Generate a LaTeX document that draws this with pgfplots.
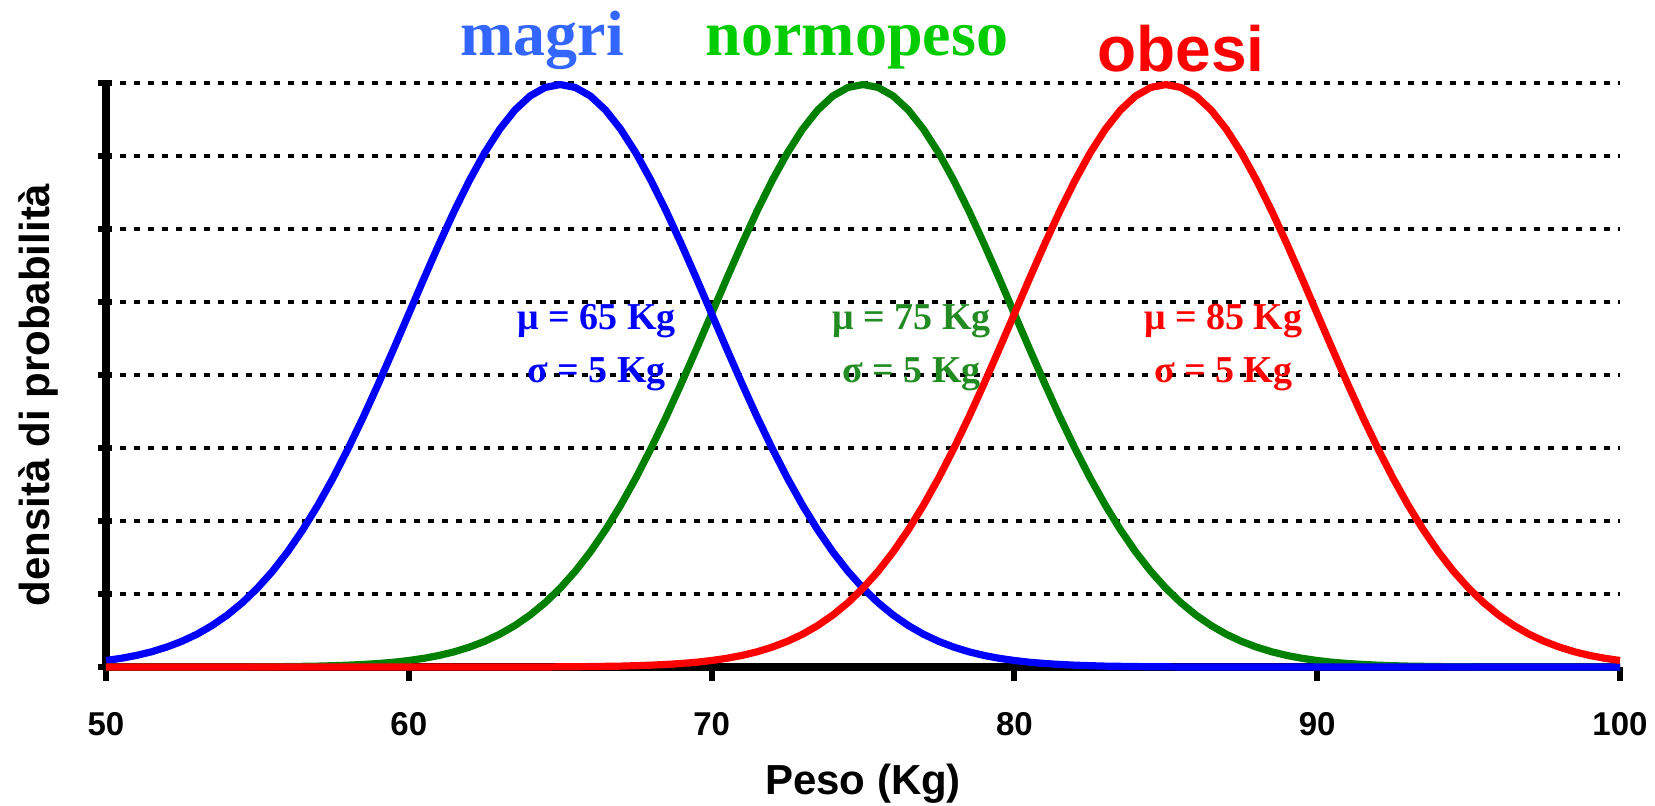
\documentclass[border=0pt]{standalone}
\usepackage{pgfplots}
\pgfplotsset{compat=1.18}
\usepackage{pgfplotstable}
\usepackage{fontspec}
\setmainfont{Liberation Sans}
\newfontfamily\tnr{Liberation Serif}
\definecolor{cblue}{RGB}{0,0,255}
\definecolor{cgreen}{RGB}{0,128,0}
\definecolor{cred}{RGB}{255,0,0}
\definecolor{tblue}{RGB}{51,102,255}
\definecolor{tgreen}{RGB}{0,204,0}
\definecolor{agreen}{RGB}{34,139,34}

\pgfplotstableread{
x m n o
50 0.00089 0 0
50.5 0.00119 0 0
51 0.00158 0 0
51.5 0.00208 0 0
52 0.00272 0 0
52.5 0.00351 0 0
53 0.00448 0 0
53.5 0.00567 0 0
54 0.00710 0 0
54.5 0.00880 0 0
55 0.01080 0.00003 0
55.5 0.01312 0.00004 0
56 0.01579 0.00006 0
56.5 0.01881 0.00009 0
57 0.02218 0.00012 0
57.5 0.02590 0.00018 0
58 0.02995 0.00025 0
58.5 0.03427 0.00035 0
59 0.03884 0.00048 0
59.5 0.04357 0.00065 0
60 0.04839 0.00089 0
60.5 0.05322 0.00119 0
61 0.05794 0.00158 0
61.5 0.06245 0.00208 0
62 0.06664 0.00272 0
62.5 0.07041 0.00351 0
63 0.07365 0.00448 0
63.5 0.07628 0.00567 0
64 0.07821 0.00710 0
64.5 0.07939 0.00880 0
65 0.07979 0.01080 0.00003
65.5 0.07939 0.01312 0.00004
66 0.07821 0.01579 0.00006
66.5 0.07628 0.01881 0.00009
67 0.07365 0.02218 0.00012
67.5 0.07041 0.02590 0.00018
68 0.06664 0.02995 0.00025
68.5 0.06245 0.03427 0.00035
69 0.05794 0.03884 0.00048
69.5 0.05322 0.04357 0.00065
70 0.04839 0.04839 0.00089
70.5 0.04357 0.05322 0.00119
71 0.03884 0.05794 0.00158
71.5 0.03427 0.06245 0.00208
72 0.02995 0.06664 0.00272
72.5 0.02590 0.07041 0.00351
73 0.02218 0.07365 0.00448
73.5 0.01881 0.07628 0.00567
74 0.01579 0.07821 0.00710
74.5 0.01312 0.07939 0.00880
75 0.01080 0.07979 0.01080
75.5 0.00880 0.07939 0.01312
76 0.00710 0.07821 0.01579
76.5 0.00567 0.07628 0.01881
77 0.00448 0.07365 0.02218
77.5 0.00351 0.07041 0.02590
78 0.00272 0.06664 0.02995
78.5 0.00208 0.06245 0.03427
79 0.00158 0.05794 0.03884
79.5 0.00119 0.05322 0.04357
80 0.00089 0.04839 0.04839
80.5 0.00065 0.04357 0.05322
81 0.00048 0.03884 0.05794
81.5 0.00035 0.03427 0.06245
82 0.00025 0.02995 0.06664
82.5 0.00018 0.02590 0.07041
83 0.00012 0.02218 0.07365
83.5 0.00009 0.01881 0.07628
84 0.00006 0.01579 0.07821
84.5 0.00004 0.01312 0.07939
85 0.00003 0.01080 0.07979
85.5 0 0.00880 0.07939
86 0 0.00710 0.07821
86.5 0 0.00567 0.07628
87 0 0.00448 0.07365
87.5 0 0.00351 0.07041
88 0 0.00272 0.06664
88.5 0 0.00208 0.06245
89 0 0.00158 0.05794
89.5 0 0.00119 0.05322
90 0 0.00089 0.04839
90.5 0 0.00065 0.04357
91 0 0.00048 0.03884
91.5 0 0.00035 0.03427
92 0 0.00025 0.02995
92.5 0 0.00018 0.02590
93 0 0.00012 0.02218
93.5 0 0.00009 0.01881
94 0 0.00006 0.01579
94.5 0 0.00004 0.01312
95 0 0.00003 0.01080
95.5 0 0 0.00880
96 0 0 0.00710
96.5 0 0 0.00567
97 0 0 0.00448
97.5 0 0 0.00351
98 0 0 0.00272
98.5 0 0 0.00208
99 0 0 0.00158
99.5 0 0 0.00119
100 0 0 0.00089
}\dens

\begin{document}
\begin{tikzpicture}
\begin{axis}[name=ax, scale only axis, width=757pt, height=292pt,
  xmin=50, xmax=100, ymin=0, ymax=0.08,
  axis x line*=bottom, axis y line*=left,
  axis line style={line width=4pt, black},
  xtick={50,60,70,80,90,100},
  ytick={0,0.01,0.02,0.03,0.04,0.05,0.06,0.07,0.08},
  yticklabels={},
  scaled y ticks=false,
  ymajorgrids,
  major grid style={black, line width=1.8pt, dash pattern=on 2.8pt off 4.2pt},
  tick align=outside, major tick length=7pt,
  tick style={black, line width=3pt},
  ytick style={xshift=3pt},
  /pgf/number format/assume math mode=true,
  ticklabel style={font=\bfseries\fontsize{16.5}{18}\selectfont},
  xticklabel style={anchor=base, yshift=-27pt},
  xlabel={Peso (Kg)},
  xlabel style={at={(axis description cs:0.5,-0.219)}, anchor=base, font=\bfseries\fontsize{21}{24}\selectfont},
  ylabel={densità di probabilità},
  ylabel style={at={(axis description cs:-0.037,0.466)}, anchor=base, font=\bfseries\fontsize{21}{24}\selectfont},
  clip=false, no markers,
]
\addplot[cgreen, line width=3.6pt, line join=round] table[x=x,y=n]{\dens};
\addplot[cblue, line width=3.6pt, line join=round] table[x=x,y=m]{\dens};
\addplot[cred, line width=3.6pt, line join=round] table[x=x,y=o]{\dens};

\node[font=\tnr\bfseries\fontsize{32}{36}\selectfont, text=tblue, anchor=base] at (axis cs:64.4,0.0838) {magri};
\node[font=\tnr\bfseries\fontsize{32}{36}\selectfont, text=tgreen, anchor=base] at (axis cs:74.8,0.0838) {normopeso};
\node[font=\bfseries\fontsize{32}{36}\selectfont, text=cred, anchor=base] at (axis cs:85.5,0.0816) {obesi};

\node[font=\tnr\bfseries\fontsize{19}{22}\selectfont, text=cblue, anchor=base] at (axis cs:66.2,0.0463) {μ = 65 Kg};
\node[font=\tnr\bfseries\fontsize{19}{22}\selectfont, text=cblue, anchor=base] at (axis cs:66.2,0.0390) {σ = 5 Kg};
\node[font=\tnr\bfseries\fontsize{19}{22}\selectfont, text=agreen, anchor=base] at (axis cs:76.6,0.0463) {μ = 75 Kg};
\node[font=\tnr\bfseries\fontsize{19}{22}\selectfont, text=agreen, anchor=base] at (axis cs:76.6,0.0390) {σ = 5 Kg};
\node[font=\tnr\bfseries\fontsize{19}{22}\selectfont, text=cred, anchor=base] at (axis cs:86.9,0.0463) {μ = 85 Kg};
\node[font=\tnr\bfseries\fontsize{19}{22}\selectfont, text=cred, anchor=base] at (axis cs:86.9,0.0390) {σ = 5 Kg};
\end{axis}
\pgfresetboundingbox
\path[use as bounding box] ([xshift=-53pt,yshift=-69.5pt]ax.south west) rectangle ([xshift=17.5pt,yshift=41.5pt]ax.north east);
\end{tikzpicture}
\end{document}
